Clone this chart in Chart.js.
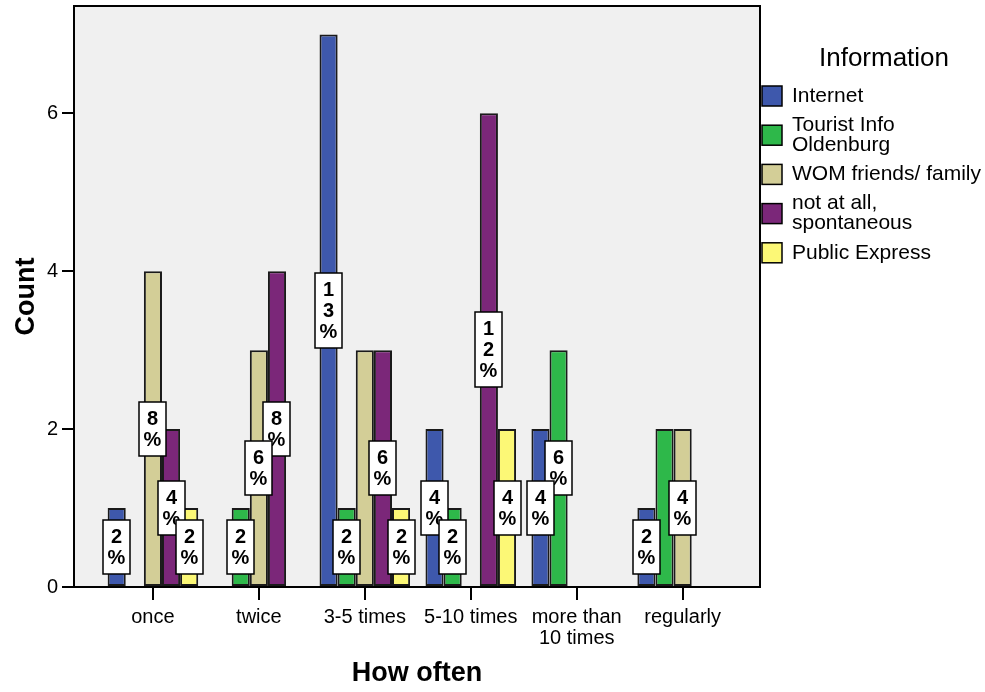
<!DOCTYPE html>
<html>
<head>
<meta charset="utf-8">
<title>How often – Information</title>
<script src="https://cdn.jsdelivr.net/npm/chart.js@4/dist/chart.umd.min.js"></script>
<style>
  html, body { margin: 0; padding: 0; background: #ffffff; }
  #wrap { width: 985px; height: 692px; }
</style>
</head>
<body>
<div id="wrap"><canvas id="chart" width="985" height="692"></canvas></div>
<script>
// Categories on the x axis (multi-line labels as arrays)
const categories = [['once'], ['twice'], ['3-5 times'], ['5-10 times'], ['more than', '10 times'], ['regularly']];

// Series names and their legend line breaks
const seriesNames = ['Internet', 'Tourist Info Oldenburg', 'WOM friends/ family', 'not at all, spontaneous', 'Public Express'];
const legendLines = [['Internet'], ['Tourist Info', 'Oldenburg'], ['WOM friends/ family'], ['not at all,', 'spontaneous'], ['Public Express']];

// Counts per category
const internet      = [1, 0, 7, 2, 2, 1];
const touristInfo   = [0, 1, 1, 1, 3, 2];
const womFamily     = [4, 3, 3, 0, 0, 2];
const spontaneous   = [2, 4, 3, 6, 0, 0];
const publicExpress = [1, 0, 1, 2, 0, 0];

// Value axis ticks
const yTicks = [0, 2, 4, 6];

const seriesValues = [internet, touristInfo, womFamily, spontaneous, publicExpress];
const seriesColors = ['#3E58AC', '#2EB84A', '#D3CE97', '#7B2779', '#FCF876'];

const FONT = "'Liberation Sans', Arial, Helvetica, sans-serif";
const grandTotal = seriesValues.reduce((s, arr) => s + arr.reduce((a, b) => a + b, 0), 0);

const datasets = seriesNames.map((name, d) => ({
  label: name,
  data: seriesValues[d].map((v, i) => ({ x: i, y: v })),
  backgroundColor: seriesColors[d],
  borderColor: '#1a1a1a',
  borderWidth: 2,
  borderSkipped: false,
  categoryPercentage: 0.855,
  barPercentage: 1.0
}));

// Grey plot background and closing frame
const plotFrame = {
  id: 'plotFrame',
  beforeDatasetsDraw(chart) {
    const { ctx, chartArea: a } = chart;
    ctx.save();
    ctx.fillStyle = '#F0F0F0';
    ctx.fillRect(a.left, a.top, a.right - a.left, a.bottom - a.top);
    ctx.restore();
  },
  afterDraw(chart) {
    const { ctx, chartArea: a } = chart;
    ctx.save();
    ctx.strokeStyle = '#000';
    ctx.lineWidth = 2;
    ctx.strokeRect(a.left, a.top, a.right - a.left, a.bottom - a.top);
    ctx.restore();
  }
};

// Percentage-of-total boxes in the middle of each bar, characters stacked vertically
const percentBoxes = {
  id: 'percentBoxes',
  afterDatasetsDraw(chart) {
    const { ctx } = chart;
    const items = [];
    categories.forEach((_, i) => {
      seriesValues.forEach((vals, d) => {
        const v = vals[i];
        if (!v) return;
        // an equal-height neighbour to the right carries the label instead
        if (d + 1 < seriesValues.length && seriesValues[d + 1][i] === v) return;
        const bar = chart.getDatasetMeta(d).data[i];
        const pct = Math.round(v / grandTotal * 100);
        items.push({ x: bar.x, y: (bar.y + bar.base) / 2, chars: (pct + '%').split('') });
      });
    });
    items.sort((a, b) => a.y - b.y);
    ctx.save();
    ctx.font = 'bold 20px ' + FONT;
    ctx.textAlign = 'center';
    ctx.textBaseline = 'middle';
    items.forEach(it => {
      const w = 27, lh = 21;
      const h = it.chars.length * lh + 12;
      const left = Math.round(it.x - w / 2), top = Math.round(it.y - h / 2);
      ctx.fillStyle = '#fff';
      ctx.fillRect(left, top, w, h);
      ctx.strokeStyle = '#000';
      ctx.lineWidth = 1.5;
      ctx.strokeRect(left, top, w, h);
      ctx.fillStyle = '#000';
      it.chars.forEach((c, k) => {
        ctx.fillText(c, left + w / 2, top + 17 + k * lh);
      });
    });
    ctx.restore();
  }
};

// Legend at the right with a title and wrapped entries
const sideLegend = {
  id: 'sideLegend',
  afterDraw(chart) {
    const { ctx } = chart;
    ctx.save();
    ctx.fillStyle = '#000';
    ctx.textBaseline = 'middle';
    ctx.textAlign = 'center';
    ctx.font = '26px ' + FONT;
    ctx.fillText('Information', 884, 59);
    ctx.textAlign = 'left';
    ctx.font = '21px ' + FONT;
    const x0 = 762, size = 20, step = 39.2, y0 = 86;
    legendLines.forEach((lines, d) => {
      const top = y0 + d * step;
      ctx.fillStyle = seriesColors[d];
      ctx.fillRect(x0, top, size, size);
      ctx.strokeStyle = '#000';
      ctx.lineWidth = 1.5;
      ctx.strokeRect(x0, top, size, size);
      ctx.fillStyle = '#000';
      const cy = top + size / 2;
      const lh = 20;
      lines.forEach((t, k) => {
        ctx.fillText(t, 792, cy + (k - (lines.length - 1) / 2) * lh);
      });
    });
    ctx.restore();
  }
};

new Chart(document.getElementById('chart'), {
  type: 'bar',
  data: { datasets },
  plugins: [plotFrame, percentBoxes, sideLegend],
  options: {
    responsive: false,
    animation: false,
    devicePixelRatio: 1,
    layout: { padding: { left: 0, top: 6, right: 225, bottom: 0 } },
    plugins: { legend: { display: false }, tooltip: { enabled: false } },
    scales: {
      x: {
        type: 'linear',
        offset: false,
        min: -0.745,
        max: 5.73,
        afterBuildTicks(scale) { scale.ticks = categories.map((_, i) => ({ value: i })); },
        afterFit(scale) { scale.height = 105; scale.paddingLeft = 0; scale.paddingRight = 0; },
        ticks: {
          autoSkip: false,
          maxRotation: 0,
          padding: 7,
          color: '#000',
          font: { family: FONT, size: 20, lineHeight: 1.05 },
          callback: (v) => categories[v] || ''
        },
        grid: { offset: false, drawOnChartArea: false, drawTicks: true, tickLength: 13, color: '#000', lineWidth: 2 },
        border: { display: true, color: '#000', width: 2 },
        title: {
          display: true,
          text: 'How often',
          color: '#000',
          font: { family: FONT, size: 27, weight: 'bold' },
          padding: { top: 0, bottom: 2 }
        }
      },
      y: {
        type: 'linear',
        min: 0,
        max: 7.36,
        afterBuildTicks(scale) { scale.ticks = yTicks.map(v => ({ value: v })); },
        afterFit(scale) { scale.width = 74; scale.paddingTop = 0; scale.paddingBottom = 0; },
        ticks: {
          padding: 4,
          color: '#000',
          font: { family: FONT, size: 20 }
        },
        grid: { drawOnChartArea: false, drawTicks: true, tickLength: 12, color: '#000', lineWidth: 2 },
        border: { display: true, color: '#000', width: 2 },
        title: {
          display: true,
          text: 'Count',
          color: '#000',
          font: { family: FONT, size: 27, weight: 'bold' },
          padding: { top: 10, bottom: 0 }
        }
      }
    }
  }
});
</script>
</body>
</html>
